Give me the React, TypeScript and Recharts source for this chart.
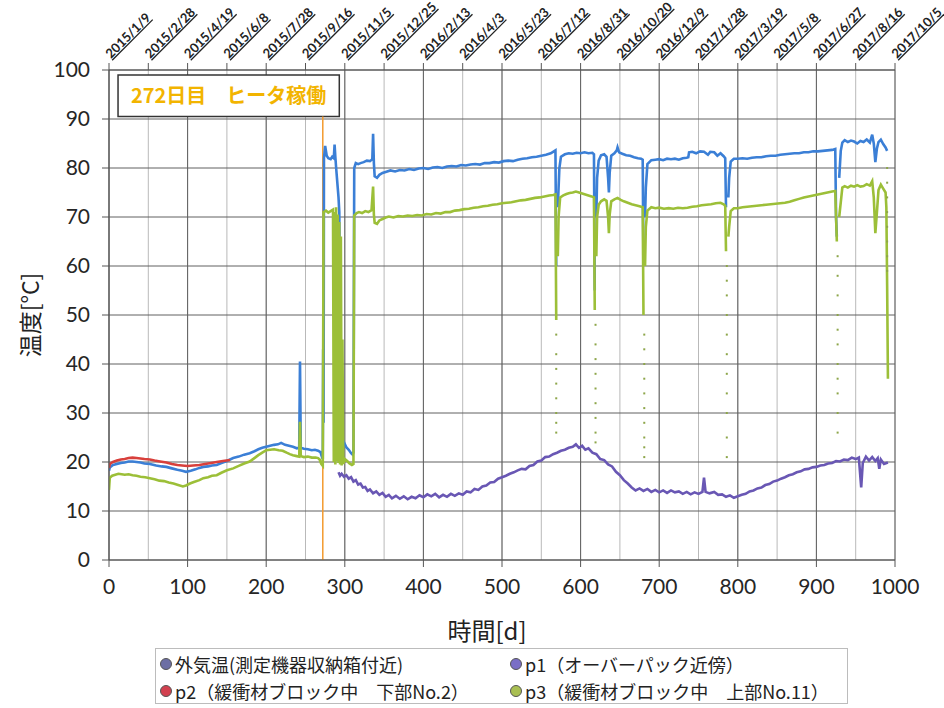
import React from 'react';
import {
  ComposedChart,
  Line,
  Scatter,
  XAxis,
  YAxis,
  CartesianGrid,
  ReferenceLine,
  ReferenceArea,
  Label,
} from 'recharts';

// ---------- axes ----------
const bottomTicks = [0, 100, 200, 300, 400, 500, 600, 700, 800, 900, 1000];
const topTicks = [0, 50, 100, 150, 200, 250, 300, 350, 400, 450, 500, 550, 600, 650, 700, 750, 800, 850, 900, 950, 1000];
const topDates = [
  '2015/1/9', '2015/2/28', '2015/4/19', '2015/6/8', '2015/7/28', '2015/9/16', '2015/11/5',
  '2015/12/25', '2016/2/13', '2016/4/3', '2016/5/23', '2016/7/12', '2016/8/31', '2016/10/20',
  '2016/12/9', '2017/1/28', '2017/3/19', '2017/5/8', '2017/6/27', '2017/8/16', '2017/10/5',
];
const yTicks = [0, 10, 20, 30, 40, 50, 60, 70, 80, 90, 100];

const heaterDay = 272;
const heaterNote = '272日目\u3000ヒータ稼働';

// ---------- series names ----------
const seriesNames = [
  '外気温(測定機器収納箱付近)',
  'p1（オーバーパック近傍）',
  'p2（緩衝材ブロック中\u3000下部No.2）',
  'p3（緩衝材ブロック中\u3000上部No.11）',
];

// ---------- data: [day, temperature] ----------
const outdoorPts = [
  [292, 17.9], [294, 17.2], [296, 17.6], [299, 17.0], [302, 17.3], [305, 16.6], [308, 16.9], [311, 16.0],
  [314, 16.3], [317, 15.4], [320, 15.6], [323, 14.8], [326, 14.9], [329, 14.1], [332, 14.4], [336, 13.6],
  [340, 14.0], [344, 13.3], [348, 13.7], [352, 12.9], [356, 13.3], [360, 12.6], [365, 13.1], [370, 12.5],
  [375, 13.0], [380, 12.4], [385, 12.9], [390, 12.6], [395, 13.2], [400, 12.8], [405, 13.4], [410, 13.0],
  [415, 13.5], [420, 12.8], [425, 13.3], [430, 12.9], [435, 13.5], [440, 13.1], [445, 13.6], [450, 13.3],
  [455, 14.0], [460, 13.8], [465, 14.5], [470, 14.3], [475, 15.0], [480, 15.2], [485, 15.8], [490, 15.9],
  [495, 16.6], [500, 16.9], [505, 17.2], [510, 17.6], [515, 17.9], [520, 18.3], [525, 18.6], [530, 18.5],
  [535, 19.2], [540, 19.4], [545, 20.1], [550, 20.3], [555, 21.0], [560, 21.1], [565, 21.6], [570, 21.9],
  [575, 22.3], [580, 22.5], [585, 22.9], [590, 23.1], [594, 23.6], [598, 22.9], [602, 23.3], [606, 22.5],
  [610, 22.8], [615, 21.9], [620, 21.6], [625, 20.6], [630, 20.4], [635, 19.5], [640, 19.1], [645, 18.0],
  [650, 17.3], [655, 16.3], [660, 15.6], [665, 14.8], [670, 14.2], [675, 14.6], [680, 14.1], [685, 14.5],
  [690, 13.9], [695, 14.3], [700, 13.8], [705, 14.2], [710, 13.7], [715, 14.2], [720, 13.8], [725, 14.0],
  [730, 13.5], [735, 13.9], [740, 13.4], [745, 13.8], [750, 13.5], [755, 13.9], [757, 16.8], [759, 13.9],
  [764, 13.6], [770, 13.9], [775, 13.3], [780, 13.4], [785, 12.9], [790, 13.2], [795, 12.7], [800, 13.0],
  [805, 13.3], [810, 13.5], [815, 14.0], [820, 14.2], [825, 14.6], [830, 14.8], [835, 15.3], [840, 15.5],
  [845, 16.0], [850, 16.2], [855, 16.6], [860, 16.9], [865, 17.3], [870, 17.5], [875, 17.9], [880, 18.1],
  [885, 18.5], [890, 18.6], [895, 18.9], [900, 19.0], [905, 19.3], [910, 19.4], [915, 19.7], [920, 19.8],
  [925, 20.2], [930, 20.1], [935, 20.5], [940, 20.4], [945, 20.9], [950, 20.6], [954, 20.9], [957, 14.8],
  [959, 19.8], [963, 21.1], [967, 20.3], [971, 21.0], [975, 20.2], [978, 20.8], [980, 18.6], [982, 20.5],
  [986, 19.6], [991, 19.9],
];

const p1Pts = [
  [0, 18.2], [1, 18.9], [5, 19.4], [10, 19.6], [15, 19.8], [20, 19.9], [25, 20.1], [30, 20.1], [35, 20.0],
  [40, 19.9], [45, 19.7], [52, 19.6], [60, 19.3], [67, 19.1], [73, 19.0], [80, 18.7], [87, 18.4], [93, 18.2],
  [98, 18.0], [104, 18.2], [110, 18.5], [115, 18.8], [120, 19.0], [126, 19.1], [131, 19.3], [137, 19.4],
  [143, 19.8], [150, 20.2], [158, 20.8], [165, 21.1], [172, 21.5], [179, 21.8], [185, 22.2], [190, 22.6],
  [195, 22.9], [200, 23.1], [205, 23.3], [210, 23.5], [215, 23.6], [219, 23.9], [224, 23.5], [229, 23.3],
  [234, 23.1], [239, 22.8], [242, 22.9], [243, 40.5], [244, 22.9], [248, 22.7], [253, 22.6], [258, 22.4],
  [262, 22.5], [266, 22.3], [269, 22.0], [271, 21.0], [272, 20.6], [272.5, 43.0], [273, 28.0], [273.5, 82.0],
  [275, 84.5], [277, 82.5], [279, 82.0], [282, 81.8], [284, 82.3], [286, 82.0], [287, 84.8], [288, 82.2],
  [289, 80.0], [290, 78.0], [291, 76.0], [292, 74.0], [293, 71.0], [294, 45.0], [295, 27.0], [297, 23.5],
  [299, 24.0], [302, 23.0], [305, 22.5], [308, 21.8], [310, 21.5], [311, 22.0], [312, 80.0], [314, 81.0],
  [317, 80.8], [320, 81.0], [324, 81.2], [328, 81.5], [332, 81.4], [335, 81.8], [336, 87.0], [337, 81.0],
  [338, 78.3], [341, 78.0], [344, 78.6], [348, 79.0], [352, 79.2], [358, 79.5], [364, 79.3], [370, 79.6],
  [376, 79.5], [382, 79.8], [388, 79.6], [394, 79.9], [400, 80.0], [406, 79.8], [412, 80.1], [418, 80.2],
  [424, 80.0], [430, 80.3], [436, 80.4], [442, 80.3], [448, 80.6], [454, 80.5], [460, 80.7], [466, 80.8],
  [472, 80.7], [478, 81.0], [484, 81.0], [490, 81.2], [496, 81.1], [502, 81.4], [508, 81.5], [514, 81.4],
  [520, 81.7], [526, 81.9], [532, 82.0], [538, 82.2], [544, 82.3], [550, 82.5], [556, 82.7], [562, 83.0],
  [566, 83.4], [568, 83.6], [569, 60.0], [569.5, null], [571, 72.0], [573, 80.0], [575, 82.3], [580, 82.8],
  [585, 83.0], [590, 82.9], [595, 83.1], [600, 83.0], [605, 83.2], [610, 83.0], [615, 83.1], [617, 82.8],
  [618, 55.0], [618.5, null], [620, 70.0], [621, 78.0], [623, 81.5], [626, 82.6], [630, 82.8], [633, 82.3],
  [635, 78.0], [636, 75.0], [637, 79.0], [639, 82.5], [643, 83.0], [646, 83.6], [647, 84.2], [649, 83.2],
  [653, 82.9], [658, 82.6], [663, 82.5], [668, 82.2], [673, 82.0], [677, 81.9], [679, 81.7], [680, 60.0],
  [680.5, null], [682, 70.0], [683, 76.0], [685, 80.8], [690, 81.6], [695, 81.7], [700, 81.8], [705, 81.6],
  [710, 81.9], [715, 81.8], [720, 81.9], [725, 81.7], [730, 82.0], [735, 82.1], [737, 82.2], [738, 83.2],
  [742, 83.3], [747, 83.0], [752, 83.4], [757, 83.3], [762, 82.7], [765, 83.3], [770, 83.2], [774, 82.5],
  [778, 83.0], [782, 82.4], [784, 82.0], [785, 72.0], [785.5, null], [788, 74.0], [789, 78.0], [791, 81.3],
  [795, 81.9], [800, 81.9], [806, 82.0], [812, 81.9], [818, 82.1], [824, 82.2], [830, 82.2], [836, 82.4],
  [842, 82.5], [848, 82.5], [854, 82.7], [860, 82.8], [866, 82.9], [872, 83.0], [878, 83.0], [884, 83.2],
  [890, 83.2], [896, 83.4], [902, 83.4], [908, 83.5], [914, 83.6], [920, 83.7], [924, 83.9], [925, 70.0],
  [926, 66.0], [926.5, null], [929, 78.0], [931, 83.5], [933, 85.2], [936, 85.7], [940, 85.3], [944, 85.6],
  [948, 85.4], [952, 85.0], [956, 85.5], [960, 85.3], [964, 85.8], [968, 85.2], [971, 86.8], [973, 85.0],
  [975, 81.2], [977, 84.0], [979, 85.3], [982, 85.8], [985, 84.9], [988, 84.2], [990, 83.5],
];

const p2Pts = [
  [0, 18.8], [1, 19.6], [5, 20.0], [10, 20.3], [15, 20.5], [20, 20.6], [25, 20.8], [30, 20.9], [35, 20.8],
  [40, 20.7], [45, 20.6], [52, 20.5], [58, 20.3], [65, 20.1], [73, 19.9], [80, 19.6], [87, 19.4], [93, 19.3],
  [100, 19.2], [107, 19.3], [115, 19.4], [122, 19.6], [130, 19.8], [137, 20.0], [145, 20.2], [154, 20.4],
];

const p3Pts = [
  [0, 14.3], [1, 16.8], [4, 17.2], [8, 17.4], [12, 17.6], [16, 17.5], [20, 17.4], [25, 17.5], [30, 17.3],
  [35, 17.2], [40, 17.0], [46, 16.9], [52, 16.7], [58, 16.5], [64, 16.2], [70, 16.1], [76, 15.8], [82, 15.6],
  [88, 15.3], [94, 15.0], [98, 15.2], [103, 15.6], [108, 15.9], [115, 16.3], [120, 16.7], [126, 16.9],
  [131, 17.2], [137, 17.3], [143, 17.8], [150, 18.3], [158, 18.7], [165, 19.2], [172, 19.7], [179, 20.1],
  [185, 20.8], [190, 21.4], [195, 21.9], [200, 22.4], [205, 22.5], [210, 22.6], [216, 22.4], [221, 22.3],
  [226, 21.9], [230, 21.6], [234, 21.4], [239, 21.2], [242, 21.1], [243, 28.2], [244, 21.2], [248, 21.0],
  [253, 21.1], [258, 20.9], [263, 20.9], [266, 20.8], [268, 20.5], [270, 19.6], [272, 19.2], [273, 71.0],
  [276, 71.3], [279, 70.9], [282, 71.2], [285, 71.5], [286, 20.0], [287, 71.0], [288, 19.5], [289, 72.0],
  [290, 20.2], [291, 70.5], [292, 19.8], [293, 69.0], [294, 19.5], [295, 66.0], [296, 19.3], [297, 45.0],
  [298, 19.6], [300, 20.6], [303, 20.2], [306, 19.7], [309, 19.4], [311, 19.6], [312, 70.3], [315, 70.8],
  [318, 71.0], [322, 70.8], [326, 71.2], [330, 71.0], [334, 71.4], [336, 76.2], [337, 70.5], [338, 68.8],
  [341, 68.6], [344, 69.3], [348, 69.6], [352, 69.9], [356, 70.1], [362, 69.9], [368, 70.2], [374, 70.1],
  [380, 70.3], [386, 70.2], [392, 70.4], [398, 70.3], [404, 70.6], [410, 70.5], [416, 70.8], [422, 70.7],
  [428, 71.0], [434, 71.0], [440, 71.3], [446, 71.4], [452, 71.6], [458, 71.7], [464, 71.9], [470, 72.0],
  [476, 72.2], [482, 72.3], [488, 72.5], [494, 72.6], [500, 72.8], [506, 72.9], [512, 73.0], [518, 73.2],
  [524, 73.4], [530, 73.5], [536, 73.7], [542, 73.9], [548, 74.0], [554, 74.2], [560, 74.4], [565, 74.5],
  [568, 74.6], [569, 49.0], [569.5, null], [571, 62.0], [572, 70.0], [574, 74.0], [578, 74.4], [582, 74.7],
  [586, 74.9], [590, 75.0], [594, 75.2], [598, 75.0], [602, 74.8], [606, 74.6], [610, 74.4], [614, 74.2],
  [617, 74.0], [618, 51.0], [618.5, null], [620, 62.0], [621, 70.0], [623, 72.5], [626, 73.2], [630, 73.6],
  [633, 73.3], [635, 70.0], [636, 66.7], [637, 70.5], [639, 73.2], [643, 73.6], [647, 73.9], [651, 73.5],
  [655, 73.2], [660, 72.9], [665, 72.6], [670, 72.4], [675, 72.2], [679, 72.0], [680, 50.0], [680.5, null],
  [682, 60.0], [683, 68.0], [685, 71.3], [690, 72.0], [695, 71.8], [700, 71.9], [706, 71.7], [712, 71.8],
  [718, 71.7], [724, 71.9], [730, 71.8], [736, 71.9], [742, 72.1], [748, 72.2], [754, 72.4], [760, 72.5],
  [766, 72.6], [772, 72.8], [778, 72.9], [782, 72.6], [784, 72.3], [785, 63.0], [785.5, null], [788, 66.0],
  [789, 68.0], [791, 71.2], [795, 71.8], [800, 71.8], [806, 72.0], [812, 72.1], [818, 72.2], [824, 72.3],
  [830, 72.4], [836, 72.5], [842, 72.6], [848, 72.7], [854, 72.8], [860, 72.9], [866, 73.1], [872, 73.4],
  [878, 73.7], [884, 74.0], [890, 74.2], [896, 74.4], [902, 74.6], [908, 74.8], [914, 75.0], [920, 75.2],
  [924, 75.3], [925, 70.0], [926, 65.0], [926.5, null], [929, 70.0], [931, 73.0], [933, 76.0], [936, 76.3],
  [940, 76.0], [944, 76.4], [948, 76.2], [952, 76.5], [956, 76.2], [960, 76.3], [964, 76.7], [968, 76.4],
  [971, 77.3], [973, 74.0], [975, 66.7], [977, 71.0], [979, 75.5], [982, 76.6], [985, 75.8], [988, 75.0],
  [989, 72.0], [990, 56.0], [991, 37.0],
];

// sparse readings during the quick drops (drawn as dots)
const dropDots = [
  [569, 46], [569, 42], [569, 39], [569, 36], [569, 33], [569, 30], [569, 28], [569, 26],
  [619, 48], [619, 44], [619, 41], [619, 38], [619, 35], [619, 32], [619, 29], [619, 26], [619, 24],
  [681, 46], [681, 43], [681, 40], [681, 37], [681, 34], [681, 31], [681, 28], [681, 25], [681, 23], [681, 21],
  [786, 60], [786, 57], [786, 54], [786, 50], [786, 46], [786, 42], [786, 38], [786, 34], [786, 30], [786, 25], [786, 21],
  [927, 62], [927, 58], [927, 54], [927, 50], [927, 47], [927, 44], [927, 40], [927, 37], [927, 34], [927, 30], [927, 26],
  [990, 80], [990, 77], [990, 74], [990, 71], [990, 68], [990, 65], [990, 62], [990, 59],
];

const toRows = (pts: (number | null)[][]) => pts.map(([d, v]) => ({ d, v }));

const lineColors = ['#6957b4', '#3b7fd6', '#d8403c', '#9cbf38'];
const legendColors = ['#6d6fa4', '#7a6ec6', '#d2404f', '#a9bf52'];
const seriesPts = [outdoorPts, p1Pts, p2Pts, p3Pts];

const FONT = "Lato, 'Noto Sans CJK JP', sans-serif";
const CJK = "'Noto Sans CJK JP', Lato, sans-serif";

const DateTick = (props: any) => {
  const { x, y, payload } = props;
  const idx = topTicks.indexOf(payload.value);
  const label = idx >= 0 ? topDates[idx] : '';
  return (
    <g transform={`translate(${x + 2},${y - 1})`}>
      <text
        transform="rotate(-45)"
        textAnchor="start"
        fontFamily={FONT}
        fontSize={13}
        fontWeight="bold"
        fill="#222"
        textDecoration="underline"
        style={{ textDecoration: 'underline' }}
      >
        {label}
      </text>
    </g>
  );
};

const ShortDot = (props: any) => {
  const { cx, cy } = props;
  return <rect x={cx - 1} y={cy - 1} width={2} height={2} fill="#8da64a" />;
};

export default function App() {
  return (
    <div style={{ position: 'absolute', left: 0, top: 0, width: 944, height: 708, background: '#fff' }}>
      <ComposedChart width={944} height={650} margin={{ top: 0, right: 49, bottom: 0, left: 0 }}>
        <XAxis
          xAxisId="t"
          orientation="top"
          type="number"
          dataKey="d"
          domain={[0, 1000]}
          ticks={topTicks}
          interval={0}
          tickSize={7}
          tickMargin={3}
          height={70}
          stroke="#555"
          allowDataOverflow
          tick={<DateTick />}
        />
        <XAxis
          xAxisId="b"
          type="number"
          dataKey="d"
          domain={[0, 1000]}
          ticks={bottomTicks}
          interval={0}
          tickSize={7}
          tickMargin={12}
          height={90}
          stroke="#555"
          allowDataOverflow
          tick={{ fontSize: 21, fill: '#262626', fontFamily: FONT }}
        >
          <Label
            content={(p: any) => {
              const vb = p.viewBox;
              return (
                <text
                  x={vb.x + vb.width / 2 - 15}
                  y={vb.y + 80}
                  textAnchor="middle"
                  fontSize={24}
                  fontFamily={CJK}
                  fill="#222"
                >
                  時間[d]
                </text>
              );
            }}
          />
        </XAxis>
        <YAxis
          type="number"
          domain={[0, 100]}
          ticks={yTicks}
          interval={0}
          width={109}
          tickSize={7}
          tickMargin={12}
          stroke="#555"
          allowDataOverflow
          tick={{ fontSize: 21, fill: '#262626', fontFamily: FONT }}
        >
          <Label
            content={(p: any) => {
              const vb = p.viewBox;
              const cx = 29;
              const cy = vb.y + vb.height / 2;
              return (
                <text
                  x={cx}
                  y={cy}
                  transform={`rotate(-90, ${cx}, ${cy})`}
                  textAnchor="middle"
                  dominantBaseline="central"
                  fontSize={23}
                  fontFamily={CJK}
                  fill="#222"
                >
                  温度[°C]
                </text>
              );
            }}
          />
        </YAxis>
        <CartesianGrid xAxisId="t" horizontal={false} stroke="#b9b9b9" strokeWidth={1} />
        <CartesianGrid xAxisId="b" stroke="#606060" strokeWidth={1} />
        <ReferenceArea
          xAxisId="b"
          x1={11.5}
          x2={293}
          y1={90.5}
          y2={99}
          fill="#ffffff"
          fillOpacity={1}
          stroke="#333"
          strokeWidth={1.5}
          label={{
            value: heaterNote,
            position: 'center',
            fill: '#f2b400',
            fontSize: 20,
            fontWeight: 'bold',
            fontFamily: CJK,
          }}
        />
        <ReferenceLine
          xAxisId="b"
          segment={[{ x: heaterDay, y: 0 }, { x: heaterDay, y: 90.5 }]}
          stroke="#f39a2e"
          strokeWidth={1.5}
        />
        {seriesPts.map((pts, i) => (
          <Line
            key={seriesNames[i]}
            xAxisId="b"
            name={seriesNames[i]}
            data={toRows(pts)}
            dataKey="v"
            type="linear"
            stroke={lineColors[i]}
            strokeWidth={2.6}
            dot={false}
            activeDot={false}
            connectNulls={false}
            isAnimationActive={false}
          />
        ))}
        <Scatter
          xAxisId="b"
          name="drops"
          data={toRows(dropDots)}
          dataKey="v"
          shape={<ShortDot />}
          isAnimationActive={false}
          legendType="none"
        />
      </ComposedChart>
      <div
        style={{
          position: 'absolute',
          left: 155,
          top: 648,
          width: 693,
          height: 56,
          border: '1px solid #bcbcbc',
          boxSizing: 'border-box',
          fontFamily: CJK,
          fontSize: 18,
          color: '#222',
        }}
      >
        {seriesNames.map((n, i) => (
          <div
            key={n}
            style={{
              position: 'absolute',
              left: i % 2 === 0 ? 4 : 354,
              top: i < 2 ? 3 : 30,
              display: 'flex',
              alignItems: 'center',
              whiteSpace: 'nowrap',
              lineHeight: '24px',
            }}
          >
            <span
              style={{
                display: 'inline-block',
                width: 10,
                height: 10,
                borderRadius: '50%',
                background: legendColors[i],
                border: '1.5px solid #555',
                marginRight: 3,
              }}
            />
            {n}
          </div>
        ))}
      </div>
    </div>
  );
}
